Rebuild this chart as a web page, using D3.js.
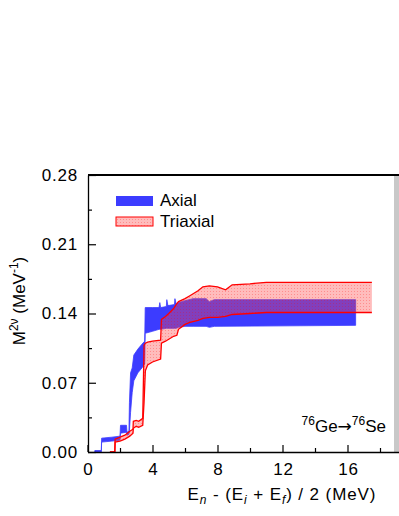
<!DOCTYPE html>
<html>
<head>
<meta charset="utf-8">
<script src="https://cdn.jsdelivr.net/npm/d3@7"></script>
<style>
  html, body { margin: 0; padding: 0; background: #fff; }
  text { font-family: "Liberation Sans", Arial, sans-serif; }
</style>
</head>
<body>
<svg id="chart" width="399" height="516"></svg>
<script>
// Axial band (blue)
const axialE    = [0.45, 0.85, 0.87, 1.5, 2.0, 2.03, 2.4, 2.43, 2.55, 2.58, 2.65, 2.75, 2.85, 3.1, 3.35, 3.52, 3.55, 4.0, 4.4, 4.45, 4.5, 4.85, 4.88, 4.95, 5.35, 5.38, 5.45, 5.6, 6.0, 6.5, 7.3, 7.5, 7.8, 16.5];
const axialLow  = [0, 0, 0.010, 0.011, 0.012, 0.019, 0.020, 0.017, 0.018, 0.022, 0.040, 0.060, 0.072, 0.080, 0.085, 0.089, 0.120, 0.122, 0.124, 0.124, 0.124, 0.125, 0.125, 0.125, 0.125, 0.125, 0.125, 0.126, 0.127, 0.127, 0.127, 0.126, 0.127, 0.128];
const axialHigh = [0.0015, 0.0015, 0.014, 0.015, 0.016, 0.027, 0.027, 0.020, 0.021, 0.050, 0.080, 0.085, 0.098, 0.104, 0.109, 0.112, 0.146, 0.146, 0.146, 0.151, 0.146, 0.147, 0.154, 0.148, 0.149, 0.155, 0.150, 0.151, 0.153, 0.155, 0.155, 0.152, 0.154, 0.154];

// Triaxial band (red)
const triaxE    = [1.38, 1.68, 1.7, 2.0, 2.3, 2.6, 2.8, 2.82, 3.0, 3.15, 3.4, 3.48, 3.56, 3.7, 4.0, 4.5, 4.55, 4.8, 5.0, 5.3, 5.5, 5.6, 6.0, 6.3, 6.8, 7.1, 7.5, 8.0, 8.5, 8.9, 10, 11, 17.5];
const triaxLow  = [0, 0, 0.010, 0.011, 0.013, 0.016, 0.019, 0.024, 0.026, 0.025, 0.027, 0.050, 0.082, 0.088, 0.091, 0.094, 0.110, 0.112, 0.114, 0.117, 0.118, 0.124, 0.129, 0.131, 0.133, 0.135, 0.136, 0.136, 0.137, 0.139, 0.140, 0.141, 0.141];
const triaxHigh = [0, 0, 0.013, 0.015, 0.017, 0.021, 0.023, 0.031, 0.032, 0.031, 0.034, 0.108, 0.110, 0.111, 0.112, 0.113, 0.134, 0.137, 0.140, 0.145, 0.150, 0.152, 0.155, 0.158, 0.163, 0.167, 0.168, 0.167, 0.164, 0.169, 0.170, 0.1715, 0.1715];

const xMajor = [0, 4, 8, 12, 16];
const xMinor = [2, 6, 10, 14, 18];
const yMajor = [0, 0.07, 0.14, 0.21, 0.28];
const yMinor = [0.035, 0.105, 0.175, 0.245];

const axial = axialE.map((e, i) => ({ e, lo: axialLow[i], hi: axialHigh[i] }));
const triax = triaxE.map((e, i) => ({ e, lo: triaxLow[i], hi: triaxHigh[i] }));

const svg = d3.select('#chart');
const x = d3.scaleLinear().domain([0, 19.2]).range([87.5, 399.5]);
const y = d3.scaleLinear().domain([0, 0.28]).range([452, 175]);

// pattern for the triaxial band
const defs = svg.append('defs');
const pat = defs.append('pattern')
  .attr('id', 'pink')
  .attr('patternUnits', 'userSpaceOnUse')
  .attr('width', 3).attr('height', 3);
pat.append('rect').attr('width', 3).attr('height', 3).attr('fill', 'rgba(255,70,70,0.36)');
pat.append('rect').attr('width', 1).attr('height', 1).attr('fill', 'rgba(255,0,0,0.25)');

// gray strip at the right edge
svg.append('rect')
  .attr('x', 394).attr('y', 176).attr('width', 5).attr('height', 276)
  .attr('fill', '#c8c8c8');

const area = d3.area()
  .x((d) => x(d.e))
  .y0((d) => y(d.lo))
  .y1((d) => y(d.hi));

svg.append('path')
  .datum(axial)
  .attr('d', area)
  .attr('fill', '#3c3cff')
  .attr('stroke', '#3c3cff')
  .attr('stroke-width', 0.8);

svg.append('path')
  .datum(triax)
  .attr('d', area)
  .attr('fill', 'url(#pink)');

const lineLo = d3.line().x((d) => x(d.e)).y((d) => y(d.lo));
const lineHi = d3.line().x((d) => x(d.e)).y((d) => y(d.hi));
[lineLo, lineHi].forEach((ln) => {
  svg.append('path')
    .datum(triax)
    .attr('d', ln)
    .attr('fill', 'none')
    .attr('stroke', '#ff0000')
    .attr('stroke-width', 1.3);
});

// axes
const xAxis = svg.append('g')
  .attr('transform', 'translate(0,452)')
  .call(d3.axisBottom(x).tickValues(xMajor).tickSize(-7).tickSizeOuter(0).tickPadding(11).tickFormat(d3.format('d')));
svg.append('g')
  .attr('transform', 'translate(0,452)')
  .call(d3.axisBottom(x).tickValues(xMinor).tickSize(-4).tickSizeOuter(0).tickFormat(''))
  .select('.domain').remove();

const yAxis = svg.append('g')
  .attr('transform', 'translate(88,0)')
  .call(d3.axisLeft(y).tickValues(yMajor).tickSize(-8).tickSizeOuter(0).tickPadding(10).tickFormat(d3.format('.2f')));
svg.append('g')
  .attr('transform', 'translate(88,0)')
  .call(d3.axisLeft(y).tickValues(yMinor).tickSize(-4).tickSizeOuter(0).tickFormat(''))
  .select('.domain').remove();

svg.selectAll('.tick text')
  .attr('font-size', 17)
  .attr('letter-spacing', 0.8)
  .attr('font-family', '"Liberation Sans", Arial, sans-serif')
  .attr('fill', '#000');
xAxis.selectAll('.tick text').attr('dx', 0.4);
svg.selectAll('.tick line').attr('stroke', '#000').attr('stroke-width', 1.2);
xAxis.select('.domain').attr('stroke', '#000').attr('stroke-width', 1.6);
yAxis.select('.domain').attr('stroke', '#000').attr('stroke-width', 1.3);

// top frame
svg.append('line')
  .attr('x1', 88).attr('x2', 399).attr('y1', 175).attr('y2', 175)
  .attr('stroke', '#000').attr('stroke-width', 2);

// legend
svg.append('rect')
  .attr('x', 116).attr('y', 196).attr('width', 37).attr('height', 10)
  .attr('fill', '#3c3cff');
svg.append('text').attr('x', 160).attr('y', 206).attr('font-size', 17).text('Axial');
svg.append('rect')
  .attr('x', 116).attr('y', 217).attr('width', 37).attr('height', 9)
  .attr('fill', 'url(#pink)').attr('stroke', '#ff0000').attr('stroke-width', 1);
svg.append('text').attr('x', 160).attr('y', 227).attr('font-size', 17).text('Triaxial');

// reaction label
const lab = svg.append('text').attr('x', 386).attr('y', 432).attr('font-size', 17).attr('text-anchor', 'end');
lab.append('tspan').attr('font-size', 12).attr('dy', -7).text('76');
lab.append('tspan').attr('dy', 7).text('Ge');
lab.append('tspan').attr('font-family', '"DejaVu Sans", sans-serif').attr('font-size', 17).text('\u2192');
lab.append('tspan').attr('font-size', 12).attr('dy', -7).text('76');
lab.append('tspan').attr('dy', 7).text('Se');

// x title
const xt = svg.append('text').attr('x', 282).attr('y', 500)
  .attr('font-size', 17).attr('letter-spacing', 0.9).attr('text-anchor', 'middle');
xt.append('tspan').text('E');
xt.append('tspan').attr('font-size', 12).attr('font-style', 'italic').attr('dy', 4).text('n');
xt.append('tspan').attr('dy', -4).text(' - (E');
xt.append('tspan').attr('font-size', 12).attr('font-style', 'italic').attr('dy', 4).text('i');
xt.append('tspan').attr('dy', -4).text(' + E');
xt.append('tspan').attr('font-size', 12).attr('font-style', 'italic').attr('dy', 4).text('f');
xt.append('tspan').attr('dy', -4).text(') / 2 (MeV)');

// y title
const yt = svg.append('text')
  .attr('transform', 'translate(25,301) rotate(-90)')
  .attr('font-size', 17).attr('text-anchor', 'middle');
yt.append('tspan').text('M');
yt.append('tspan').attr('font-size', 12).attr('dy', -7).text('2\u03bd');
yt.append('tspan').attr('dy', 7).text(' (MeV');
yt.append('tspan').attr('font-size', 12).attr('dy', -7).text('-1');
yt.append('tspan').attr('dy', 7).text(')');
</script>
</body>
</html>
